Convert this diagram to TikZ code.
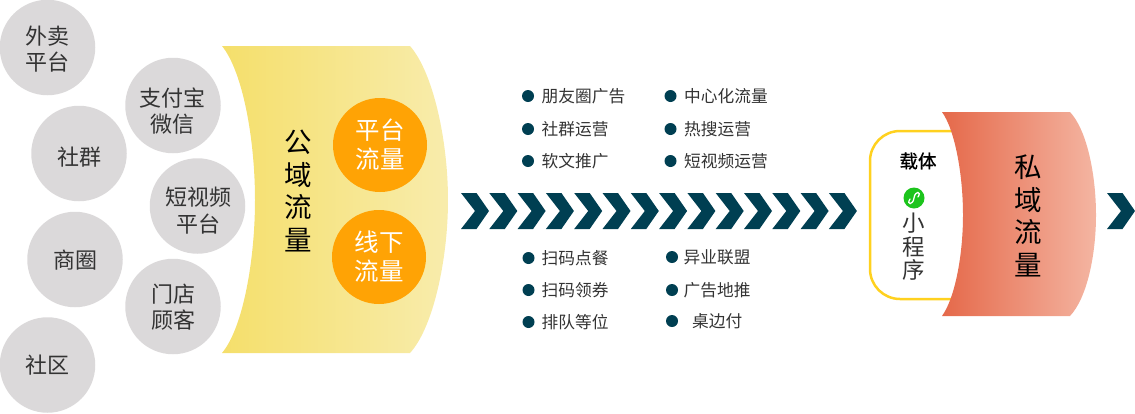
\documentclass[tikz,border=0pt]{standalone}
\usepackage{fontspec}
\setmainfont{Noto Sans CJK SC}
\newfontfamily\semibold[FakeBold=0.7]{Noto Sans CJK SC}
\definecolor{circlegray}{HTML}{DBD9DA}
\definecolor{textgray}{HTML}{333333}
\definecolor{darkteal}{HTML}{003F52}
\definecolor{flowgold}{HTML}{FFA305}
\definecolor{boxyellow}{HTML}{FFD11F}
\definecolor{appgreen}{HTML}{1CC41C}
\definecolor{publicleft}{HTML}{F5DF6B}
\definecolor{publicright}{HTML}{F8ECAC}
\definecolor{privateleft}{HTML}{E5694A}
\definecolor{privateright}{HTML}{F4B5A2}
\tikzset{
    source/.style={circle,fill=circlegray,minimum size=95.5pt,inner sep=0pt},
    sourcetext/.style={align=center,inner sep=0pt,text=textgray,font=\fontsize{22}{26.5}\selectfont},
    flow/.style={circle,fill=flowgold,minimum size=94pt,inner sep=0pt,align=center,text=white,font=\fontsize{24.5}{29}\selectfont},
    title/.style={align=center,text=black,font=\fontsize{27.5}{32.5}\selectfont},
    bullet/.style={circle,fill=darkteal,minimum size=12pt,inner sep=0pt},
    item/.style={anchor=west,inner sep=0pt,text=textgray,font=\fontsize{16.7}{20}\selectfont},
    chevron/.pic={\fill[darkteal] (0,-18) -- (15.5,-18) -- (28,0) -- (15.5,18) -- (0,18) -- (14,0) -- cycle;}
}
\begin{document}
\begin{tikzpicture}[x=1pt,y=-1pt]
    \useasboundingbox (0,0) rectangle (1135,413);

    % sources
    \node[source] (waimai) at (47.5,47.5) {};
    \node[source] (shequn) at (79,153.5) {};
    \node[source] (shangquan) at (75,259.5) {};
    \node[source] (shequ) at (47.5,365) {};
    \node[source] (zhifu) at (173,105.5) {};
    \node[source] (duanshipin) at (197.5,206) {};
    \node[source] (mendian) at (173,306.5) {};
    \node[sourcetext] (waimaitext) at (47.5,49) {外卖\\平台};
    \node[sourcetext] (shequntext) at (79,157) {社群};
    \node[sourcetext] (shangquantext) at (75,260) {商圈};
    \node[sourcetext] (shequtext) at (47.5,365) {社区};
    \node[sourcetext] (zhifutext) at (172,111) {支付宝\\微信};
    \node[sourcetext] (duanshipintext) at (198,210.5) {短视频\\平台};
    \node[sourcetext] (mendiantext) at (173,307) {门店\\顾客};

    % public domain
    \shade[left color=publicleft,right color=publicright]
        (222,46) -- (410,46) .. controls (433,72) and (448,140) .. (448,200)
        .. controls (448,260) and (433,328) .. (410,353) -- (222,353)
        .. controls (243,328) and (255,260) .. (255,200)
        .. controls (255,140) and (243,72) .. (222,46) -- cycle;
    \node[title] (gongyu) at (298,191) {公\\域\\流\\量};
    \node[flow] (pingtai) at (380,145) {平台\\流量};
    \node[flow] (xianxia) at (379,257) {线下\\流量};

    % arrows
    \foreach \i in {0,...,13}
        \pic at ({461+28.3*\i},211) {chevron};
    \pic at (1107,211) {chevron};

    % upper list
    \foreach \nm/\x/\y/\t in {a1/528/96/朋友圈广告,a2/528/129/社群运营,a3/528/161/软文推广,
                              b1/670.5/96/中心化流量,b2/670.5/129/热搜运营,b3/670.5/161/短视频运营}{
        \node[bullet] (dot\nm) at (\x,\y) {};
        \node[item] (txt\nm) at (\x+13.5,\y) {\t};
    }
    % lower list
    \foreach \nm/\x/\y/\t in {c1/528.5/258/扫码点餐,c2/528.5/290/扫码领券,c3/528.5/322/排队等位,
                              d1/672/257/异业联盟,d2/672/290/广告地推}{
        \node[bullet] (dot\nm) at (\x,\y) {};
        \node[item] (txt\nm) at (\ifdim\x pt<600pt 541.5\else 683.5\fi,\y+0.5) {\t};
    }
    \node[bullet] (dotd3) at (672,321) {};
    \node[item] (txtd3) at (692,321) {桌边付};

    % carrier
    \draw[boxyellow,line width=2.5pt,rounded corners=30pt] (960,131) -- (870,131) -- (870,299) -- (960,299);
    \shade[left color=privateleft,right color=privateright]
        (942,112) -- (1070,112) .. controls (1087,130) and (1096,175) .. (1096,215)
        .. controls (1096,255) and (1087,298) .. (1070,316) -- (942,316)
        .. controls (955,298) and (963,255) .. (963,215)
        .. controls (963,175) and (955,130) .. (942,112) -- cycle;
    \node[title] (siyu) at (1028,216) {私\\域\\流\\量};
    \node[text=black,font=\fontsize{18.5}{20}\semibold] (zaiti) at (918,161) {载体};
    \node[circle,fill=appgreen,minimum size=21pt,inner sep=0pt] (appicon) at (914,198) {};
    \draw[white,line width=1.3pt,line cap=round] (910,199) .. controls (906,205) and (913,205.5) .. (914,198)
        .. controls (915,190.5) and (922,191) .. (918,197);
    \node[align=center,text=textgray,font=\fontsize{22.5}{23.5}\selectfont] (xiaochengxu) at (914,247) {小\\程\\序};
\end{tikzpicture}
\end{document}
